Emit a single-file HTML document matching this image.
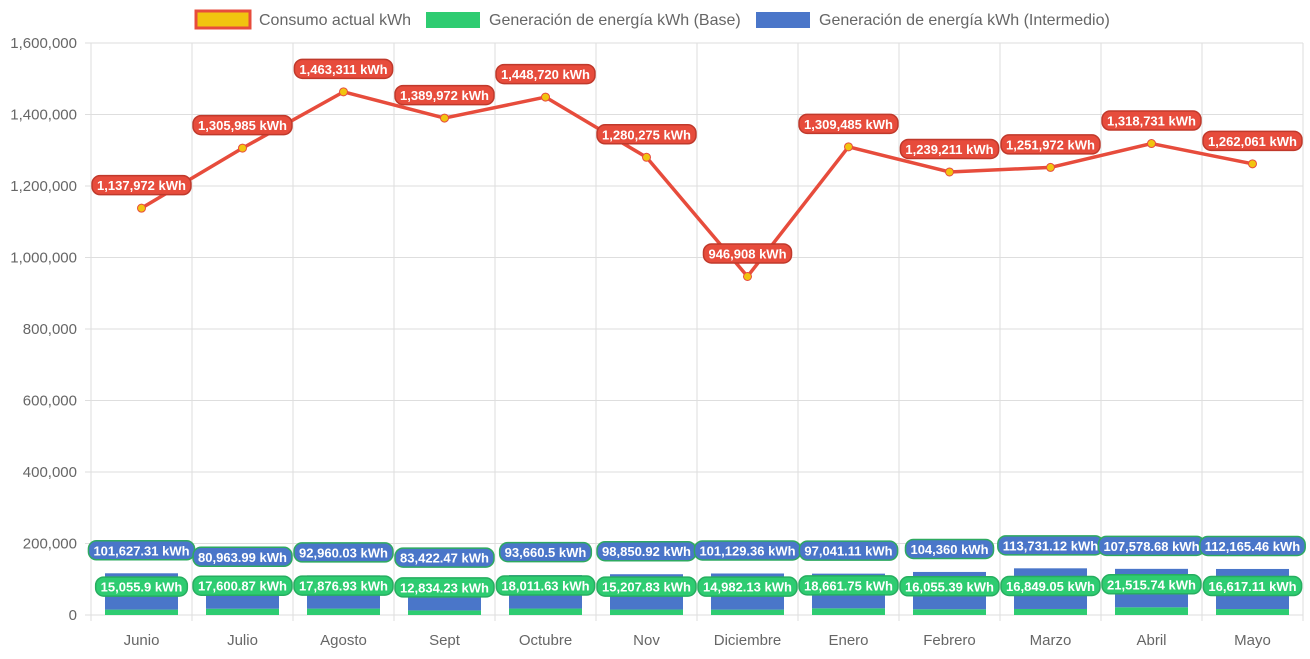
<!DOCTYPE html>
<html><head><meta charset="utf-8">
<style>
body{margin:0;background:#fff;font-family:"Liberation Sans",Arial,sans-serif;}
svg text{font-family:"Liberation Sans",Arial,sans-serif;}
</style></head>
<body>
<svg id="chart" width="1310" height="654">
<g id="legend">
 <g>
  <rect x="196" y="11" width="54" height="17" fill="#f1c40f" stroke="#e74c3c" stroke-width="3"/>
  <text x="259" y="25" font-size="16" fill="#666">Consumo actual kWh</text>
 </g>
 <g>
  <rect x="426" y="12" width="54" height="16" fill="#2ecc71"/>
  <text x="489" y="25" font-size="16" fill="#666">Generación de energía kWh (Base)</text>
 </g>
 <g>
  <rect x="756" y="12" width="54" height="16" fill="#4a76c9"/>
  <text x="819" y="25" font-size="16" fill="#666">Generación de energía kWh (Intermedio)</text>
 </g>
</g>
<g id="grid"></g><g id="bars"></g><g id="line"></g><g id="labels"></g>
</svg>
<script>
const categories=["Junio","Julio","Agosto","Sept","Octubre","Nov","Diciembre","Enero","Febrero","Marzo","Abril","Mayo"];
const consumo=[1137972,1305985,1463311,1389972,1448720,1280275,946908,1309485,1239211,1251972,1318731,1262061];
const consumoLabels=["1,137,972","1,305,985","1,463,311","1,389,972","1,448,720","1,280,275","946,908","1,309,485","1,239,211","1,251,972","1,318,731","1,262,061"];
const base=[15055.9,17600.87,17876.93,12834.23,18011.63,15207.83,14982.13,18661.75,16055.39,16849.05,21515.74,16617.11];
const baseLabels=["15,055.9","17,600.87","17,876.93","12,834.23","18,011.63","15,207.83","14,982.13","18,661.75","16,055.39","16,849.05","21,515.74","16,617.11"];
const inter=[101627.31,80963.99,92960.03,83422.47,93660.5,98850.92,101129.36,97041.11,104360,113731.12,107578.68,112165.46];
const interLabels=["101,627.31","80,963.99","92,960.03","83,422.47","93,660.5","98,850.92","101,129.36","97,041.11","104,360","113,731.12","107,578.68","112,165.46"];
const yTicks=[0,200000,400000,600000,800000,1000000,1200000,1400000,1600000];
const yTickLabels=["0","200,000","400,000","600,000","800,000","1,000,000","1,200,000","1,400,000","1,600,000"];

const NS="http://www.w3.org/2000/svg";
const L=91,R=1303,T=43,B=615,yMax=1600000;
const bw=(R-L)/categories.length;
const y=v=>B-v/yMax*(B-T);
const x=i=>L+bw*(i+0.5);
function mk(tag,attrs,parent){const e=document.createElementNS(NS,tag);for(const k in attrs)e.setAttribute(k,attrs[k]);parent.appendChild(e);return e;}
const grid=document.getElementById('grid'),bars=document.getElementById('bars'),line=document.getElementById('line'),labels=document.getElementById('labels');
yTicks.forEach((t,i)=>{
 const l=mk('line',{x1:L-6,x2:R,y1:y(t),y2:y(t),stroke:'#dedede','stroke-width':1},grid);
 
 
 const tx=mk('text',{x:L-14,y:y(t)+5,'font-size':15,fill:'#666','text-anchor':'end'},grid);
 tx.textContent=yTickLabels[i];
 
 
});
for(let i=0;i<=categories.length;i++){
 const l=mk('line',{x1:L+bw*i,x2:L+bw*i,y1:T,y2:B+6,stroke:'#dedede','stroke-width':1},grid);
 
 
}
categories.forEach((c,i)=>{
 const tx=mk('text',{x:x(i),y:645,'font-size':15,fill:'#666','text-anchor':'middle'},grid);
 tx.textContent=c;
 
 
});
function pill(cx,cy,txt,fill,stroke){
 const g=mk('g',{},labels);
 
 
 const t=mk('text',{x:cx,y:cy+5,'font-size':13,'font-weight':'bold',fill:'#fff','text-anchor':'middle'},g);
 t.textContent=txt;
 const w=t.getComputedTextLength()+10;
 const r=mk('rect',{x:cx-w/2,y:cy-9.5,width:w,height:19,rx:8,fill:fill,stroke:stroke,'stroke-width':1.5},g);
 g.insertBefore(r,t);
}
categories.forEach((c,i)=>{
 const w=73,x0=x(i)-w/2;
 const b1=mk('rect',{x:x0,y:y(base[i]),width:w,height:B-y(base[i]),fill:'#2ecc71'},bars);
 
 
 const top=base[i]+inter[i];
 const b2=mk('rect',{x:x0,y:y(top),width:w,height:y(base[i])-y(top),fill:'#4a76c9'},bars);
 
 
});
const pts=consumo.map((v,i)=>x(i)+','+y(v)).join(' ');
const pl=mk('polyline',{points:pts,fill:'none',stroke:'#e74c3c','stroke-width':3.5,'stroke-linejoin':'round'},line);


consumo.forEach((v,i)=>{
 const c=mk('circle',{cx:x(i),cy:y(v),r:4,fill:'#f1c40f',stroke:'#e74c3c','stroke-width':1},line);
 
 
});
categories.forEach((c,i)=>{
 pill(x(i),y(consumo[i])-23,consumoLabels[i]+' kWh','#e74c3c','#c0392b');
 pill(x(i),y(base[i]+inter[i])-23,interLabels[i]+' kWh','#4a76c9','#2eaa60');
 pill(x(i),y(base[i])-23,baseLabels[i]+' kWh','#2ecc71','#27ae60');
});
</script>
</body></html>
